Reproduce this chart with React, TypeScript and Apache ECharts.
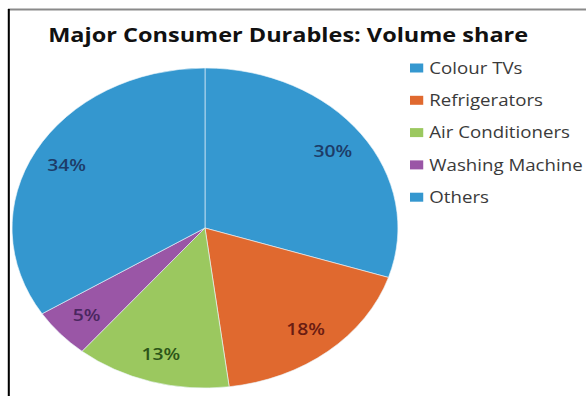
import React, { useEffect, useRef } from "react";
import * as echarts from "echarts";

const categories = ["Colour TVs", "Refrigerators", "Air Conditioners", "Washing Machine", "Others"];
const values = [30, 18, 13, 5, 34];
const sliceColors = ["#3598d0", "#e0692f", "#9bc85f", "#9a56a6", "#3497cf"];
const labelColors = ["#1d3c68", "#6a1c12", "#2c5518", "#4a2660", "#1d3c68"];
const titleText = "Major Consumer Durables: Volume share";

const OUTER_W = 586;
const OUTER_H = 396;
const STRETCH = 1.2058;
const INNER_W = Math.round(OUTER_W / STRETCH);

export default function App() {
  const ref = useRef<HTMLDivElement>(null);
  useEffect(() => {
    if (!ref.current) return;
    const chart = echarts.init(ref.current, undefined, { renderer: "svg" });
    const pieData = categories.map((name, i) => ({
      name,
      value: values[i],
      itemStyle: { color: sliceColors[i] },
    }));
    const labelData = categories.map((name, i) => ({
      name: "label: " + name,
      value: values[i],
      itemStyle: { color: "rgba(255,255,255,0)", borderWidth: 0 },
      label: { color: labelColors[i] },
    }));
    chart.setOption({
      animation: false,
      title: {
        text: titleText,
        left: 234,
        textAlign: "center",
        top: 19,
        textStyle: { fontFamily: "Open Sans", fontSize: 19.5, fontWeight: "bold", color: "#111" },
      },
      legend: {
        orient: "vertical",
        left: 335,
        top: 55,
        icon: "rect",
        itemWidth: 11,
        itemHeight: 9,
        itemGap: 16.3,
        data: categories.map((name, i) => ({
          name,
          itemStyle: { color: sliceColors[i], borderWidth: 0, opacity: 1 },
        })),
        textStyle: { fontFamily: "Open Sans", fontSize: 15.5, lineHeight: 16, color: "#3a3a3a" },
      },
      graphic: [
        { type: "line", shape: { x1: 6.6, y1: 9.5, x2: INNER_W, y2: 9.5 }, style: { stroke: "#8a8a8a", lineWidth: 2 } },
        { type: "line", shape: { x1: 7.3, y1: 9, x2: 7.3, y2: OUTER_H }, style: { stroke: "#000", lineWidth: 1.7 } },
      ],
      series: [
        {
          type: "pie",
          name: "Volume share",
          center: [170, 228],
          radius: [0, 160],
          startAngle: 90,
          clockwise: true,
          label: { show: false },
          labelLine: { show: false },
          itemStyle: { borderColor: "rgba(235,245,250,0.7)", borderWidth: 0.8 },
          emphasis: { disabled: true },
          data: pieData,
        },
        {
          type: "pie",
          name: "Volume share labels",
          center: [170, 228],
          radius: [96, 160],
          startAngle: 90,
          clockwise: true,
          silent: true,
          legendHoverLink: false,
          label: {
            show: true,
            position: "inside",
            formatter: "{c}%",
            fontFamily: "Open Sans",
            fontSize: 16,
            fontWeight: 600,
          },
          labelLine: { show: false },
          emphasis: { disabled: true },
          data: labelData,
        },
      ],
    });
    return () => chart.dispose();
  }, []);
  return (
    <div style={{ position: "fixed", left: 0, top: 0, width: OUTER_W, height: OUTER_H, overflow: "hidden", background: "#fff" }}>
      <div
        ref={ref}
        style={{ width: INNER_W, height: OUTER_H, transform: `scaleX(${STRETCH})`, transformOrigin: "0 0" }}
      />
    </div>
  );
}
